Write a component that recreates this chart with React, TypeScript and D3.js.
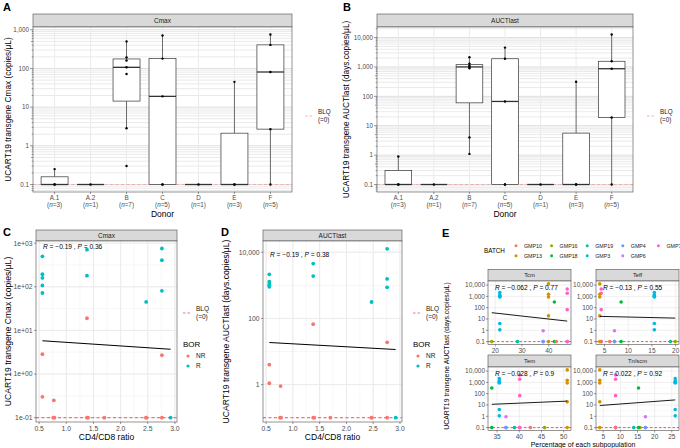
import React from "react";
import * as d3 from "d3";

const FONT = "'Liberation Sans', Arial, Helvetica, sans-serif";

// ---------------- data ----------------
const donors = ["A.1", "A.2", "B", "C", "D", "E", "F"];
const donorN = [3, 1, 7, 5, 1, 3, 5];

const patientDonor = ["A.1","A.1","A.1","A.2","B","B","B","B","B","B","B","C","C","C","C","C","D","E","E","E","F","F","F","F","F"];
const patientRatio = [0.77,0.76,0.78,2.92,0.56,0.56,0.56,0.56,0.56,0.56,0.56,1.38,1.38,1.38,1.38,1.40,1.70,2.47,2.47,2.47,2.76,2.76,2.76,2.76,2.76];
const patientBOR = ["NR","NR","NR","R","R","R","R","R","R","NR","NR","R","R","NR","NR","NR","NR","R","NR","NR","R","R","R","NR","NR"];
const patientBatch = ["GMP6","GMP6","GMP4","GMP19","GMP3","GMP3","GMP3","GMP3","GMP3","GMP3","GMP3","GMP7","GMP7","GMP7","GMP7","GMP7","GMP16","GMP18","GMP18","GMP10","GMP13","GMP13","GMP13","GMP13","GMP13"];
const patientCmax = [0.25,0.1,0.1,0.1,500,194,160,107,72,2.85,0.3,710,180,19,0.1,0.1,0.1,45,0.1,0.1,755,407,81,2.7,0.1];
const patientAUC = [0.9,0.1,0.1,0.1,2150,1300,1100,1000,900,4,1.1,4550,1900,67,0.1,0.1,0.1,314,0.1,0.1,12700,1560,870,19,0.1];

const borLevels = ["NR", "R"];
const borColors = ["#F8766D", "#00BFC4"];

const batches = ["GMP10","GMP13","GMP16","GMP18","GMP19","GMP3","GMP4","GMP6","GMP7"];
const batchColors = ["#F8766D","#D39200","#93AA00","#00BA38","#00C19F","#00B9E3","#619CFF","#DB72FB","#FF61C3"];
const subpops = ["Tcm", "Teff", "Tem", "Tn/scm"];
const pctTcm   = [42.8, 39.9, 18.7, 42.1, 28.3, 21.7, 37.9, 37.9, 46.9];
const pctTeff  = [6.1, 4.0, 19.9, 8.5, 18.9, 15.5, 7.1, 7.1, 4.3];
const pctTem   = [42.5, 50.8, 45.7, 33.8, 38.9, 35.5, 37.0, 37.0, 40.1];
const pctTnscm = [8.6, 4.0, 15.7, 15.3, 13.9, 26.0, 17.3, 17.3, 8.6];
const subpopTicks = [[20, 30, 40], [5, 10, 15, 20], [35, 40, 45, 50], [5, 10, 15, 20, 25]];

// fitted regression values (at min and max of x)
const fitCmaxRatio = [5.8, 3.7];
const fitAucRatio = [18.7, 11.5];
const fitSubpop = [[36, 6.5], [17, 12], [11.5, 22], [9, 28]];

const corrCmaxRatio = ["\u22120.19", "0.36"];
const corrAucRatio = ["\u22120.19", "0.38"];
const corrSubpop = [["\u22120.062", "0.77"], ["\u22120.13", "0.55"], ["\u22120.028", "0.9"], ["0.022", "0.92"]];

const cmaxTicks = [0.1, 1, 10, 100, 1000];
const aucTicks = [0.1, 1, 10, 100, 1000, 10000];
const cmaxSciTicks = [0.1, 1, 10, 100, 1000];
const cmaxSciLabels = ["1e-01", "1e+00", "1e+01", "1e+02", "1e+03"];
const aucRatioTicks = [1, 100, 10000];
const ratioTicks = [0.5, 1.0, 1.5, 2.0, 2.5, 3.0];

// ---------------- helpers ----------------
const fmtNum = (v: number) => (v < 1 ? String(v) : d3.format(",")(v));

function logExpand(vals: number[], m = 0.05): [number, number] {
  const l = vals.map(Math.log10);
  const lo = d3.min(l)!, hi = d3.max(l)!;
  const e = (hi - lo) * m;
  return [Math.pow(10, lo - e), Math.pow(10, hi + e)];
}
function linExpand(vals: number[], m = 0.05): [number, number] {
  const lo = d3.min(vals)!, hi = d3.max(vals)!;
  const e = (hi - lo) * m;
  return [lo - e, hi + e];
}
function boxStats(vals: number[]) {
  const l = vals.map(Math.log10).sort(d3.ascending);
  const q1 = d3.quantileSorted(l, 0.25)!, med = d3.quantileSorted(l, 0.5)!, q3 = d3.quantileSorted(l, 0.75)!;
  const iqr = q3 - q1;
  const lo = d3.min(l.filter((v) => v >= q1 - 1.5 * iqr - 1e-9))!;
  const hi = d3.max(l.filter((v) => v <= q3 + 1.5 * iqr + 1e-9))!;
  const p = (v: number) => Math.pow(10, v);
  return { q1: p(q1), med: p(med), q3: p(q3), lo: p(lo), hi: p(hi) };
}
function logMinor(lo: number, hi: number) {
  const out: { v: number; k: number }[] = [];
  for (let e = -3; e <= 6; e++)
    for (let k = 1; k <= 9; k++) {
      const v = k * Math.pow(10, e);
      if (v >= lo && v <= hi) out.push({ v, k });
    }
  return out;
}

const BORDER = "#4d4d4d";
const GRID = "#ebebeb";
const STRIP = "#d9d9d9";
const TICKTXT = "#4d4d4d";

function Strip({ x0, x1, y0, y1, label, size = 6.5 }: any) {
  return (
    <g>
      <rect x={x0} y={y0} width={x1 - x0} height={y1 - y0} fill={STRIP} stroke={BORDER} strokeWidth={0.6} />
      <text x={(x0 + x1) / 2} y={(y0 + y1) / 2 + size * 0.36} textAnchor="middle" fontSize={size} fill="#1a1a1a">{label}</text>
    </g>
  );
}

function BLQLegend({ x, y, color, dashW, size }: any) {
  return (
    <g>
      <line x1={x} x2={x + 9} y1={y} y2={y} stroke={color} strokeWidth={dashW} strokeDasharray="2.5,2" />
      <text x={x + 13} y={y - 2} fontSize={size} fill="#1a1a1a">BLQ</text>
      <text x={x + 13} y={y + 6} fontSize={size} fill="#1a1a1a">(=0)</text>
    </g>
  );
}

// ---------------- Box panel (A, B) ----------------
function BoxPanel({ x0, x1, y0, y1, stripTop, title, values, ticks, yTitle, yTitleX, legendX, letter, letterX }: any) {
  const [lo, hi] = logExpand(values);
  const y = d3.scaleLog().domain([lo, hi]).range([y1, y0]);
  const x = d3.scaleBand<string>().domain(donors).range([x0, x1]).paddingInner(0).paddingOuter(0.1);
  const cx = (d: string) => x(d)! + x.bandwidth() / 2;
  const bw = x.bandwidth() * 0.75;
  const minor = logMinor(lo, hi);
  return (
    <g>
      <text x={letterX} y={11} fontSize={11} fontWeight="bold" fill="#000">{letter}</text>
      <Strip x0={x0} x1={x1} y0={stripTop} y1={y0} label={title} />
      <rect x={x0} y={y0} width={x1 - x0} height={y1 - y0} fill="#fff" />
      {minor.map((m, i) => (
        <line key={"g" + i} x1={x0} x2={x1} y1={y(m.v)} y2={y(m.v)} stroke={m.k === 1 ? "#dedede" : "#e4e4e4"} strokeWidth={m.k === 1 ? 1 : 0.8} />
      ))}
      {donors.map((d) => (
        <line key={"v" + d} x1={cx(d)} x2={cx(d)} y1={y0} y2={y1} stroke={GRID} strokeWidth={1} />
      ))}
      <line x1={x0} x2={x1} y1={y(0.1)} y2={y(0.1)} stroke="#f4a0a0" strokeWidth={0.8} strokeDasharray="3,2.5" />
      {donors.map((d) => {
        const vals = values.filter((_: number, i: number) => patientDonor[i] === d);
        const s = boxStats(vals);
        const c = cx(d);
        return (
          <g key={"b" + d}>
            <line x1={c} x2={c} y1={y(s.q3)} y2={y(s.hi)} stroke="#333" strokeWidth={0.7} />
            <line x1={c} x2={c} y1={y(s.q1)} y2={y(s.lo)} stroke="#333" strokeWidth={0.7} />
            <rect x={c - bw / 2} y={y(s.q3)} width={bw} height={Math.max(0, y(s.q1) - y(s.q3))} fill="#fff" stroke="#333" strokeWidth={0.7} />
            <line x1={c - bw / 2} x2={c + bw / 2} y1={y(s.med)} y2={y(s.med)} stroke="#333" strokeWidth={1.3} />
            {vals.map((v: number, i: number) => (
              <circle key={i} cx={c} cy={y(v)} r={1.2} fill="#000" />
            ))}
          </g>
        );
      })}
      <rect x={x0} y={y0} width={x1 - x0} height={y1 - y0} fill="none" stroke={BORDER} strokeWidth={0.6} />
      {minor.map((m, i) => (
        <line key={"t" + i} x1={x0} x2={x0 - (m.k === 1 ? 3 : m.k === 5 ? 2 : 1.3)} y1={y(m.v)} y2={y(m.v)} stroke="#333" strokeWidth={0.5} />
      ))}
      {ticks.map((t: number) => (
        <text key={"yl" + t} x={x0 - 4} y={y(t) + 2.2} textAnchor="end" fontSize={6.3} fill={TICKTXT}>{fmtNum(t)}</text>
      ))}
      {donors.map((d, i) => (
        <g key={"xl" + d}>
          <line x1={cx(d)} x2={cx(d)} y1={y1} y2={y1 + 2} stroke="#333" strokeWidth={0.5} />
          <text x={cx(d)} y={y1 + 7.5} textAnchor="middle" fontSize={6.3} fill={TICKTXT}>{d}</text>
          <text x={cx(d)} y={y1 + 14.5} textAnchor="middle" fontSize={6.3} fill={TICKTXT}>
            (<tspan fontStyle="italic">n</tspan>={donorN[i]})
          </text>
        </g>
      ))}
      <text x={(x0 + x1) / 2} y={y1 + 25} textAnchor="middle" fontSize={8.5} fill="#000">Donor</text>
      <text transform={`translate(${yTitleX},${(y0 + y1) / 2}) rotate(-90)`} textAnchor="middle" fontSize={8.3} fill="#000">{yTitle}</text>
      <BLQLegend x={legendX} y={116} color="#f4a0a0" dashW={0.8} size={6.3} />
    </g>
  );
}

// ---------------- Scatter panel (C, D) ----------------
function RatioPanel({ x0, x1, y0, y1, stripTop, title, values, yDomain, ticks, tickLabels, fit, corr, corrY, yTitle, yTitleX, legendX, letter, letterX }: any) {
  const xr = linExpand(patientRatio);
  const x = d3.scaleLinear().domain(xr).range([x0, x1]);
  const y = d3.scaleLog().domain(yDomain).range([y1, y0]);
  const lmin = Math.log10(yDomain[0]), lmax = Math.log10(yDomain[1]);
  const lt = ticks.map(Math.log10);
  const step = lt[1] - lt[0];
  const minorY: number[] = [];
  for (let l = lt[0] - step; l <= lmax + 1e-9; l += step / 2) if (l >= lmin) minorY.push(Math.pow(10, l));
  const minorX: number[] = [];
  for (let v = 0.25; v <= xr[1]; v += 0.25) if (v >= xr[0]) minorX.push(v);
  const fx = d3.extent(patientRatio) as [number, number];
  return (
    <g>
      <text x={letterX} y={236} fontSize={11} fontWeight="bold" fill="#000">{letter}</text>
      <Strip x0={x0} x1={x1} y0={stripTop} y1={y0} label={title} />
      <rect x={x0} y={y0} width={x1 - x0} height={y1 - y0} fill="#fff" />
      {minorY.map((v, i) => (
        <line key={"my" + i} x1={x0} x2={x1} y1={y(v)} y2={y(v)} stroke="#f2f2f2" strokeWidth={0.6} />
      ))}
      {minorX.map((v, i) => (
        <line key={"mx" + i} x1={x(v)} x2={x(v)} y1={y0} y2={y1} stroke="#f2f2f2" strokeWidth={0.6} />
      ))}
      {ticks.map((t: number) => (
        <line key={"gy" + t} x1={x0} x2={x1} y1={y(t)} y2={y(t)} stroke={GRID} strokeWidth={1} />
      ))}
      {ratioTicks.map((t) => (
        <line key={"gx" + t} x1={x(t)} x2={x(t)} y1={y0} y2={y1} stroke={GRID} strokeWidth={1} />
      ))}
      <line x1={x0} x2={x1} y1={y(0.1)} y2={y(0.1)} stroke="#ff6f6f" strokeWidth={1.2} strokeDasharray="3,2.5" />
      {values.map((v: number, i: number) => (
        <circle key={"p" + i} cx={x(patientRatio[i])} cy={y(v)} r={1.9} fill={borColors[borLevels.indexOf(patientBOR[i])]} />
      ))}
      <line x1={x(fx[0])} x2={x(fx[1])} y1={y(fit[0])} y2={y(fit[1])} stroke="#000" strokeWidth={1.1} />
      <text x={x0 + 7} y={corrY} fontSize={6.6} fill="#000">
        <tspan fontStyle="italic">R</tspan> = {corr[0]} , <tspan fontStyle="italic">P</tspan> = {corr[1]}
      </text>
      <rect x={x0} y={y0} width={x1 - x0} height={y1 - y0} fill="none" stroke={BORDER} strokeWidth={0.6} />
      {ticks.map((t: number, i: number) => (
        <g key={"yl" + t}>
          <line x1={x0} x2={x0 - 2} y1={y(t)} y2={y(t)} stroke="#333" strokeWidth={0.5} />
          <text x={x0 - 3.5} y={y(t) + 2.4} textAnchor="end" fontSize={6.8} fill={TICKTXT}>{tickLabels[i]}</text>
        </g>
      ))}
      {ratioTicks.map((t) => (
        <g key={"xl" + t}>
          <line x1={x(t)} x2={x(t)} y1={y1} y2={y1 + 2} stroke="#333" strokeWidth={0.5} />
          <text x={x(t)} y={y1 + 8.5} textAnchor="middle" fontSize={6.8} fill={TICKTXT}>{t.toFixed(1)}</text>
        </g>
      ))}
      <text x={(x0 + x1) / 2} y={y1 + 18} textAnchor="middle" fontSize={8.5} fill="#000">CD4/CD8 ratio</text>
      <text transform={`translate(${yTitleX},${(y0 + y1) / 2}) rotate(-90)`} textAnchor="middle" fontSize={8.6} fill="#000">{yTitle}</text>
      <BLQLegend x={legendX} y={313} color="#ff6f6f" dashW={1.1} size={6.5} />
      <text x={legendX} y={347} fontSize={8} fill="#000">BOR</text>
      {borLevels.map((b, i) => (
        <g key={b}>
          <circle cx={legendX + 5} cy={356 + i * 10} r={1.6} fill={borColors[i]} />
          <text x={legendX + 13} y={358.4 + i * 10} fontSize={6.5} fill="#1a1a1a">{b}</text>
        </g>
      ))}
    </g>
  );
}

// ---------------- Panel E ----------------
function SubpopPanel() {
  const pcts = [pctTcm, pctTeff, pctTem, pctTnscm];
  const cols = [[488, 571], [596, 679]];
  const rows = [{ s: 269.5, t: 281, b: 344.5 }, { s: 355, t: 367, b: 430.5 }];
  const yd = logExpand(patientAUC);
  return (
    <g>
      <text x={442} y={237} fontSize={11} fontWeight="bold" fill="#000">E</text>
      <text x={484} y={253.2} fontSize={6.3} fill="#000">BATCH</text>
      {batches.map((b, i) => {
        const col = Math.floor(i / 2), row = i % 2;
        const lx = 516 + col * 35.6;
        const ly = 245.7 + row * 10;
        return (
          <g key={b}>
            <circle cx={lx} cy={ly} r={1.5} fill={batchColors[i]} />
            <text x={lx + 8} y={ly + 2} fontSize={5.3} fill="#1a1a1a">{b}</text>
          </g>
        );
      })}
      {subpops.map((sp, f) => {
        const [x0, x1] = cols[f % 2];
        const r = rows[Math.floor(f / 2)];
        const xs = patientBatch.map((b) => pcts[f][batches.indexOf(b)]);
        const xd = linExpand(xs);
        const x = d3.scaleLinear().domain(xd).range([x0, x1]);
        const y = d3.scaleLog().domain(yd).range([r.b, r.t]);
        const fx = d3.extent(xs) as [number, number];
        const minorY: number[] = [];
        for (let l = -1.5; l <= 4.5; l += 1) minorY.push(Math.pow(10, l));
        return (
          <g key={sp}>
            <Strip x0={x0} x1={x1} y0={r.s} y1={r.t} label={sp} size={5.8} />
            <rect x={x0} y={r.t} width={x1 - x0} height={r.b - r.t} fill="#fff" />
            {minorY.filter((v) => v >= yd[0] && v <= yd[1]).map((v, i) => (
              <line key={"m" + i} x1={x0} x2={x1} y1={y(v)} y2={y(v)} stroke="#f2f2f2" strokeWidth={0.5} />
            ))}
            {aucTicks.map((t) => (
              <line key={"g" + t} x1={x0} x2={x1} y1={y(t)} y2={y(t)} stroke={GRID} strokeWidth={0.8} />
            ))}
            {subpopTicks[f].map((t) => (
              <line key={"gx" + t} x1={x(t)} x2={x(t)} y1={r.t} y2={r.b} stroke={GRID} strokeWidth={0.8} />
            ))}
            <line x1={x0} x2={x1} y1={y(0.1)} y2={y(0.1)} stroke="#ff3b3b" strokeWidth={0.9} strokeDasharray="2.5,2" />
            {patientAUC.map((v, i) => (
              <circle key={"q" + i} cx={x(xs[i])} cy={y(v)} r={1.8} fill={batchColors[batches.indexOf(patientBatch[i])]} />
            ))}
            <line x1={x(fx[0])} x2={x(fx[1])} y1={y(fitSubpop[f][0])} y2={y(fitSubpop[f][1])} stroke="#000" strokeWidth={0.9} />
            <text x={x0 + 7} y={r.t + 9} fontSize={6.6} fill="#000">
              <tspan fontStyle="italic">R</tspan> = {corrSubpop[f][0]} , <tspan fontStyle="italic">P</tspan> = {corrSubpop[f][1]}
            </text>
            <rect x={x0} y={r.t} width={x1 - x0} height={r.b - r.t} fill="none" stroke={BORDER} strokeWidth={0.6} />
            {aucTicks.map((t) => (
              <g key={"yl" + t}>
                <line x1={x0} x2={x0 - 2} y1={y(t)} y2={y(t)} stroke="#333" strokeWidth={0.5} />
                <text x={x0 - 3} y={y(t) + 2.3} textAnchor="end" fontSize={6.5} fill={TICKTXT}>{fmtNum(t)}</text>
              </g>
            ))}
            {subpopTicks[f].map((t) => (
              <g key={"xl" + t}>
                <line x1={x(t)} x2={x(t)} y1={r.b} y2={r.b + 2} stroke="#333" strokeWidth={0.5} />
                <text x={x(t)} y={r.b + 8.5} textAnchor="middle" fontSize={6.5} fill={TICKTXT}>{t}</text>
              </g>
            ))}
          </g>
        );
      })}
      <text x={583} y={446.5} textAnchor="middle" fontSize={6.9} fill="#000">Percentage of each subpopulation</text>
      <text transform={`translate(448.5,356) rotate(-90)`} textAnchor="middle" fontSize={6.9} fill="#000">UCART19 transgene AUCTlast (days.copies/μL)</text>
    </g>
  );
}

export default function App() {
  return (
    <svg width={680} height={448} style={{ position: "absolute", left: 0, top: 0, background: "#fff" }} fontFamily={FONT}>
      <rect x={0} y={0} width={680} height={448} fill="#fff" />
      <BoxPanel x0={33} x1={292} y0={27} y1={192} stripTop={14} title="Cmax" values={patientCmax} ticks={cmaxTicks}
        yTitle="UCART19 transgene Cmax (copies/μL)" yTitleX={11} legendX={305} letter="A" letterX={3} />
      <BoxPanel x0={377} x1={633} y0={27} y1={192} stripTop={14} title="AUCTlast" values={patientAUC} ticks={aucTicks}
        yTitle="UCART19 transgene AUCTlast (days.copies/μL)" yTitleX={349} legendX={647} letter="B" letterX={343} />
      <RatioPanel x0={36} x1={177} y0={241} y1={422} stripTop={230} title="Cmax" values={patientCmax}
        yDomain={[Math.pow(10, -1.1), Math.pow(10, 3.05)]} ticks={cmaxSciTicks} tickLabels={cmaxSciLabels}
        fit={fitCmaxRatio} corr={corrCmaxRatio} corrY={248.5}
        yTitle="UCART19 transgene Cmax (copies/μL)" yTitleX={11} legendX={183} letter="C" letterX={3} />
      <RatioPanel x0={263} x1={402} y0={241} y1={422} stripTop={230} title="AUCTlast" values={patientAUC}
        yDomain={[Math.pow(10, -1.13), Math.pow(10, 4.34)]} ticks={aucRatioTicks} tickLabels={["1", "100", "10,000"]}
        fit={fitAucRatio} corr={corrAucRatio} corrY={256.5}
        yTitle="UCART19 transgene AUCTlast (days.copies/μL)" yTitleX={229} legendX={413} letter="D" letterX={221} />
      <SubpopPanel />
    </svg>
  );
}
